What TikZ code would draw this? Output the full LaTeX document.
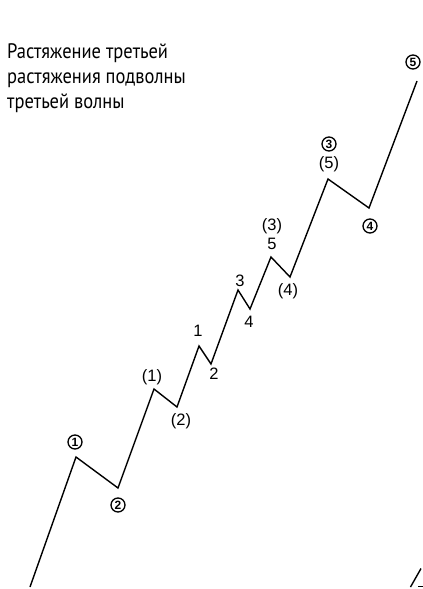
\documentclass[tikz,border=0pt]{standalone}
\usepackage{fontspec}
\setmainfont{Liberation Sans}
\newfontfamily\titlefont[FakeStretch=0.88]{PT Sans}
\begin{document}
\begin{tikzpicture}[x=1pt,y=-1pt,
  wave/.style={line width=1.4pt,line join=miter},
  lbl/.style={inner sep=0pt,font=\fontsize{16.5}{16.5}\selectfont},
  circ/.style={circle,draw,line width=1.3pt,inner sep=0pt,minimum size=14pt,font=\fontsize{12}{12}\selectfont\bfseries},
  ttl/.style={inner sep=0pt,anchor=base west,font=\titlefont\fontsize{21}{25}\selectfont}]
\useasboundingbox (0,0) rectangle (423,589);
% title
\node[ttl] (t1) at (7,58) {Растяжение третьей};
\node[ttl] (t2) at (7,83) {растяжения подволны};
\node[ttl] (t3) at (7,108) {третьей волны};
% wave points
\coordinate (p0) at (30,587);
\coordinate (p1) at (76,457);
\coordinate (p2) at (118,488);
\coordinate (p3) at (154,389);
\coordinate (p4) at (177,407);
\coordinate (p5) at (199,346);
\coordinate (p6) at (211,364);
\coordinate (p7) at (238,290);
\coordinate (p8) at (250,309);
\coordinate (p9) at (271,257);
\coordinate (p10) at (290,277);
\coordinate (p11) at (328,179);
\coordinate (p12) at (369,208);
\coordinate (p13) at (417,81);
\draw[wave] (p0) -- (p1) -- (p2) -- (p3) -- (p4) -- (p5) -- (p6) -- (p7) -- (p8) -- (p9) -- (p10) -- (p11) -- (p12) -- (p13);
% labels
\node[circ] (c1) at (75,442) {1};
\node[circ] (c2) at (118,505) {2};
\node[lbl] (l1p) at (152,377) {(1)};
\node[lbl] (l2p) at (181,421) {(2)};
\node[lbl] (n1) at (198,331) {1};
\node[lbl] (n2) at (214,374) {2};
\node[lbl] (n3) at (240,281) {3};
\node[lbl] (n4) at (249,322) {4};
\node[lbl] (l3p) at (272,226) {(3)};
\node[lbl] (n5) at (272,244) {5};
\node[lbl] (l4p) at (288,291) {(4)};
\node[circ] (c3) at (329,144) {3};
\node[lbl] (l5p) at (329,164) {(5)};
\node[circ] (c4) at (370,226) {4};
\node[circ] (c5) at (413,62) {5};
% fragment of next panel
\coordinate (f0) at (410.5,587);
\coordinate (f1) at (421,568.5);
\coordinate (g0) at (418,586.5);
\coordinate (g1) at (424,586.5);
\draw[wave] (f0) -- (f1);
\draw[line width=1.2pt] (g0) -- (g1);
\end{tikzpicture}
\end{document}
